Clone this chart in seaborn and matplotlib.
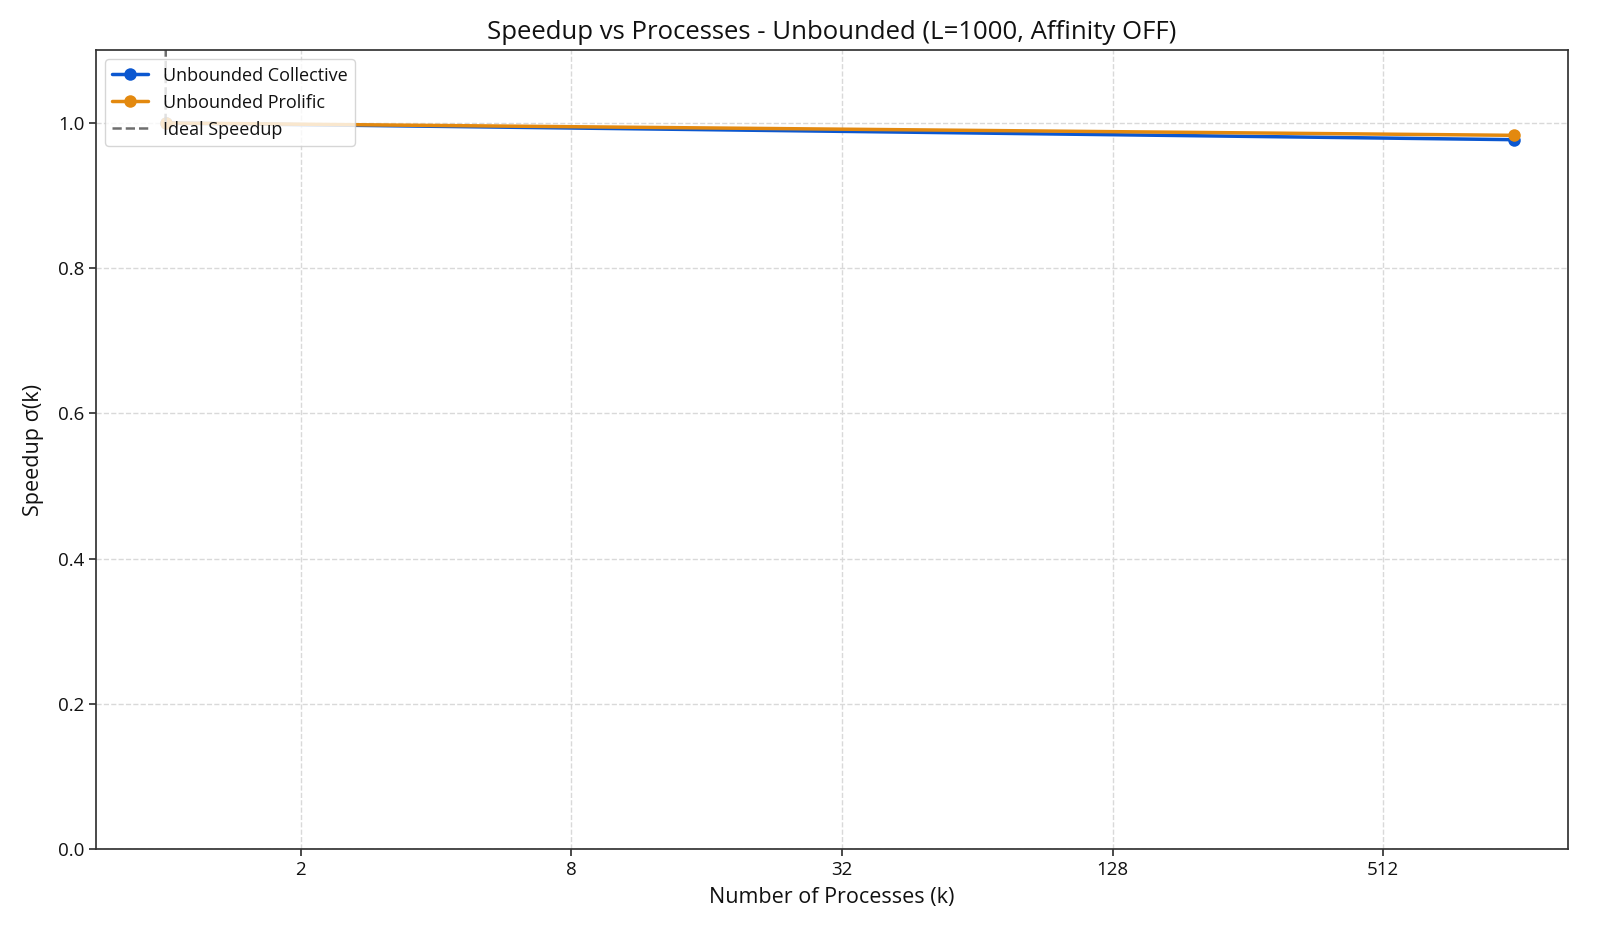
import numpy as np
import pandas as pd
import seaborn as sns
import matplotlib.pyplot as plt
from matplotlib.ticker import FixedLocator, FixedFormatter, NullLocator

sns.set_theme(style="white")
plt.rcParams['font.family'] = ['Open Sans', 'DejaVu Sans']

# data
k = [1, 1000]
collective = [1.0, 0.977]
prolific = [1.0, 0.983]
ideal = [1, 1000]
xticks = [2, 8, 32, 128, 512]

df = pd.DataFrame({
    'k': k * 2,
    'speedup': collective + prolific,
    'series': ['Unbounded Collective'] * 2 + ['Unbounded Prolific'] * 2,
})

fig, ax = plt.subplots(figsize=(16, 9.33), dpi=100)
fig.subplots_adjust(left=0.06, right=0.98, top=0.946, bottom=0.09)

sns.lineplot(data=df, x='k', y='speedup', hue='series', marker='o',
             markersize=9, linewidth=2.5, markeredgewidth=0,
             palette={'Unbounded Collective': '#0B57D0', 'Unbounded Prolific': '#E3890F'},
             ax=ax)
ax.plot(ideal, ideal, linestyle='--', color='#555555', alpha=0.85,
        linewidth=1.8, label='Ideal Speedup')

ax.set_xscale('log', base=2)
ax.set_xlim(0.7, 1320)
ax.xaxis.set_major_locator(FixedLocator(xticks))
ax.xaxis.set_major_formatter(FixedFormatter([str(t) for t in xticks]))
ax.xaxis.set_minor_locator(NullLocator())
ax.set_ylim(0, 1.1)
ax.set_yticks([0.0, 0.2, 0.4, 0.6, 0.8, 1.0])

ax.grid(True, linestyle='--', color='#d9d9d9', linewidth=1)
for s in ax.spines.values():
    s.set_color('#333333')
ax.tick_params(axis='both', labelsize=13.5, length=5, color='#333333', direction='out',
               bottom=True, left=True, labelcolor='#111111')

ax.set_title('Speedup vs Processes - Unbounded (L=1000, Affinity OFF)', fontsize=18.5,
             color='#111111', pad=8)
ax.set_xlabel('Number of Processes (k)', fontsize=15.5, color='#111111', labelpad=6)
ax.set_ylabel('Speedup σ(k)', fontsize=15.5, color='#111111', labelpad=10)

leg = ax.legend(loc='upper left', fontsize=13, frameon=True, title=None)
for t in leg.get_texts():
    t.set_color('#111111')

fig.savefig('out.png', dpi=100)
